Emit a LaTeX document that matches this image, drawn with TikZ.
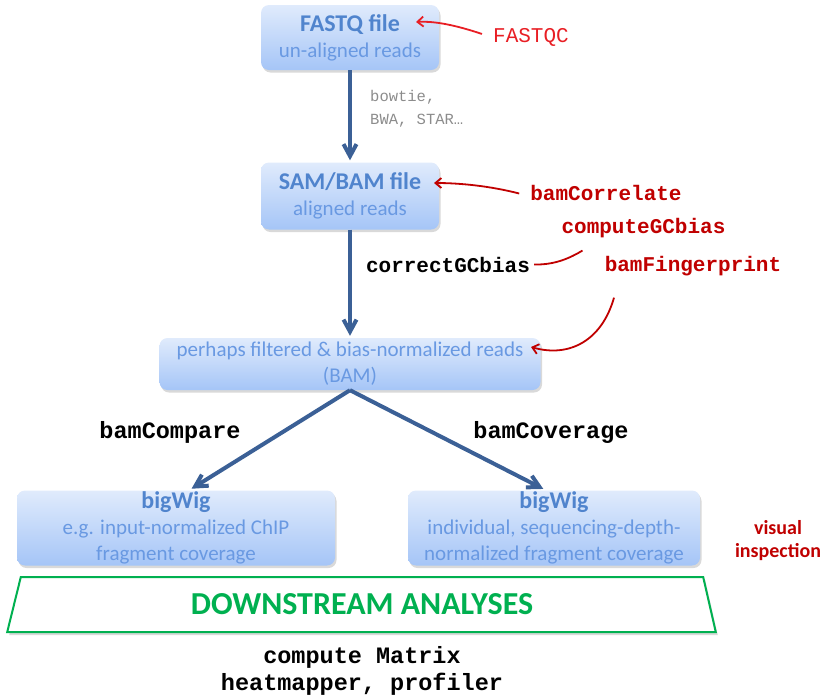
\documentclass[tikz,border=0pt]{standalone}
\usepackage{fontspec}
\setmainfont{Carlito}
\setmonofont{Liberation Mono}
\usetikzlibrary{arrows.meta,shadows,shapes.geometric}

\definecolor{boxtop}{RGB}{224,235,252}
\definecolor{boxbot}{RGB}{165,197,247}
\definecolor{boxtitle}{RGB}{80,132,205}
\definecolor{boxsub}{RGB}{105,153,226}
\definecolor{flowblue}{RGB}{59,96,150}
\definecolor{darkred}{RGB}{192,0,0}
\definecolor{brightred}{RGB}{232,30,36}
\definecolor{dsgreen}{RGB}{0,176,80}
\definecolor{toolgray}{RGB}{140,140,140}

\newcommand{\boxhead}[1]{{\fontsize{24}{26}\selectfont\bfseries #1}}

\tikzset{
    filebox/.style={rounded corners=8pt, top color=boxtop, bottom color=boxbot,
        drop shadow={shadow xshift=1.5pt, shadow yshift=-2.5pt, opacity=0.3},
        align=center, inner sep=0pt, text=boxtitle,
        font=\fontsize{21}{26}\selectfont},
    flow/.style={draw=flowblue, line width=4pt, -{Straight Barb[length=12pt, width=13pt]}},
    hint/.style={draw=darkred, line width=1.8pt, -{Straight Barb[length=6pt, width=10pt]}},
    tool/.style={inner sep=0pt, anchor=base, text=darkred,
        font=\ttfamily\bfseries\fontsize{21}{25}\selectfont},
    cmd/.style={inner sep=0pt, anchor=base, text=black,
        font=\ttfamily\bfseries\fontsize{23.5}{27}\selectfont}
}

\begin{document}
\begin{tikzpicture}[x=1pt, y=-1pt]
    \useasboundingbox (0,0) rectangle (828,697);

    % file boxes
    \node[filebox, minimum width=178pt, minimum height=65pt] (fastq) at (350,37.5)
        {\boxhead{FASTQ file}\\\color{boxsub}un-aligned reads};
    \node[filebox, minimum width=178pt, minimum height=67pt] (sam) at (350,196)
        {\boxhead{SAM/BAM file}\\\color{boxsub}aligned reads};
    \node[filebox, minimum width=381pt, minimum height=52pt, text=boxsub] (bam) at (350,364)
        {perhaps filtered \& bias-normalized reads\\(BAM)};
    \node[filebox, minimum width=318pt, minimum height=75pt] (bigl) at (176,528)
        {\boxhead{bigWig}\\\color{boxsub}e.g. input-normalized ChIP\\\color{boxsub}fragment coverage};
    \node[filebox, minimum width=292pt, minimum height=75pt] (bigr) at (554,528)
        {\boxhead{bigWig}\\\color{boxsub}individual, sequencing-depth-\\\color{boxsub}normalized fragment coverage};

    % downstream
    \node[trapezium, trapezium left angle=76, trapezium right angle=77,
        trapezium stretches=true, minimum width=712pt, minimum height=55pt,
        draw=dsgreen, line width=2pt, fill=white,
        drop shadow={shadow xshift=2pt, shadow yshift=-3pt, opacity=0.3},
        text=dsgreen, font=\bfseries\fontsize{32}{36}\selectfont] (down) at (362,604.5)
        {DOWNSTREAM ANALYSES};

    % tools
    \node[tool, text=brightred, font=\ttfamily\fontsize{21}{25}\selectfont] (fastqc) at (531,42) {FASTQC};
    \node[inner sep=0pt, anchor=base west, text=toolgray, font=\ttfamily\fontsize{15.5}{19}\selectfont]
        (bowtie) at (370,101) {bowtie,};
    \node[inner sep=0pt, anchor=base west, text=toolgray, font=\ttfamily\fontsize{15.5}{19}\selectfont]
        (bwa) at (370,124) {BWA, STAR…};
    \node[tool] (bamcorr) at (606,200) {bamCorrelate};
    \node[tool] (gcbias) at (643.5,233) {computeGCbias};
    \node[tool, text=black] (correct) at (448,272) {correctGCbias};
    \node[tool] (finger) at (693,271) {bamFingerprint};
    \node[cmd] (compare) at (170,438) {bamCompare};
    \node[cmd] (coverage) at (551,438) {bamCoverage};
    \node[cmd] (matrix) at (362,663) {compute Matrix};
    \node[cmd] (heat) at (362,690) {heatmapper, profiler};
    \node[inner sep=0pt, anchor=base, text=darkred, font=\bfseries\fontsize{20}{24}\selectfont]
        (vis1) at (778,534) {visual};
    \node[inner sep=0pt, anchor=base, text=darkred, font=\bfseries\fontsize{20}{24}\selectfont]
        (vis2) at (778,557) {inspection};

    % pipeline arrows
    \draw[flow, shorten >=2pt] (fastq) -- (sam);
    \draw[flow, shorten >=2pt] (sam) -- (bam);
    \draw[flow, shorten >=3pt] (bam.south) -- ([xshift=13pt]bigl.north);
    \draw[flow, shorten >=3pt] (bam.south) -- ([xshift=-8pt]bigr.north);

    % hint arrows
    \coordinate (fastqtip) at (416,22);
    \coordinate (samtip) at (434,183);
    \coordinate (bamtip) at (531,347);
    \draw[hint, draw=brightred] ([xshift=-11pt, yshift=3pt]fastqc.west)
        .. controls (455,25) and (435,21) .. (fastqtip);
    \draw[hint] ([xshift=-11pt, yshift=-1pt]bamcorr.west)
        .. controls (490,186) and (460,183) .. (samtip);
    \draw[draw=darkred, line width=1.8pt] ([xshift=-61pt, yshift=-13pt]gcbias.south)
        .. controls (570,258) and (555,265) .. ([xshift=4pt]correct.east);
    \draw[hint] ([xshift=-79pt, yshift=-22pt]finger.south)
        .. controls (602,340) and (570,358) .. (bamtip);
\end{tikzpicture}
\end{document}
